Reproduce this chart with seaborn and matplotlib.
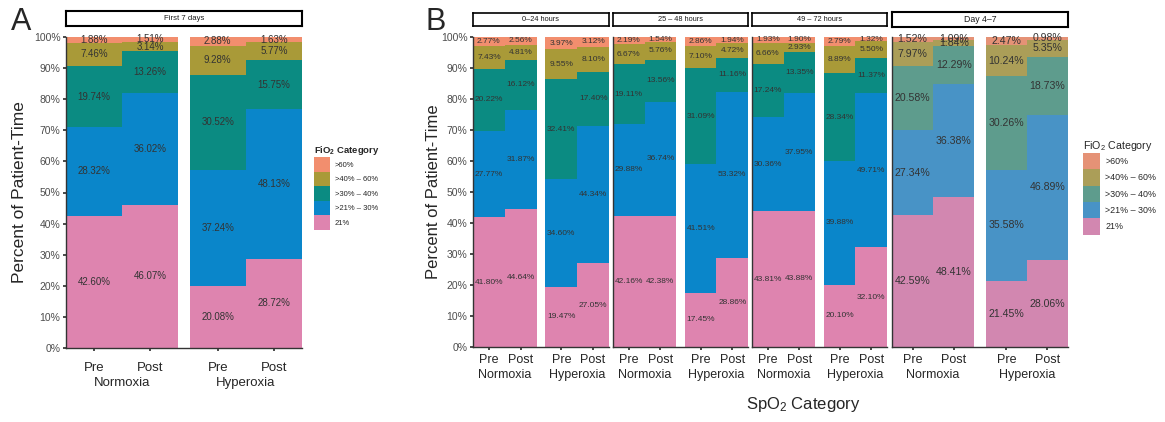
import matplotlib

matplotlib.use("Agg")

import matplotlib.pyplot as plt
import matplotlib.transforms as mtransforms
import numpy as np
import pandas as pd
import seaborn as sns
from matplotlib.patches import Patch

# ============================================================
# 数据（从图中读取，单位：%）
# ============================================================
fio2_categories = ["21%", ">21% – 30%", ">30% – 40%", ">40% – 60%", ">60%"]  # 自下而上
bar_labels = ["Pre", "Post", "Pre", "Post"]
spo2_groups = ["Normoxia", "Hyperoxia"]

# 图 A：First 7 days，顺序 Normoxia-Pre, Normoxia-Post, Hyperoxia-Pre, Hyperoxia-Post
a_21 = [42.60, 46.07, 20.08, 28.72]
a_21_30 = [28.32, 36.02, 37.24, 48.13]
a_30_40 = [19.74, 13.26, 30.52, 15.75]
a_40_60 = [7.46, 3.14, 9.28, 5.77]
a_60 = [1.88, 1.51, 2.88, 1.63]
a_strip = "First 7 days"

# 图 B：按时间段分面，每个分面 4 根柱子
b_strips = ["0–24 hours", "25 – 48 hours", "49 – 72 hours", "Day 4–7"]
b_21 = [41.80, 44.64, 19.47, 27.05, 42.16, 42.38, 17.45, 28.86,
        43.81, 43.88, 20.10, 32.10, 42.59, 48.41, 21.45, 28.06]
b_21_30 = [27.77, 31.87, 34.60, 44.34, 29.88, 36.74, 41.51, 53.32,
           30.36, 37.95, 39.88, 49.71, 27.34, 36.38, 35.58, 46.89]
b_30_40 = [20.22, 16.12, 32.41, 17.40, 19.11, 13.56, 31.09, 11.16,
           17.24, 13.35, 28.34, 11.37, 20.58, 12.29, 30.26, 18.73]
b_40_60 = [7.43, 4.81, 9.55, 8.10, 6.67, 5.76, 7.10, 4.72,
           6.66, 2.93, 8.89, 5.50, 7.97, 1.84, 10.24, 5.35]
b_60 = [2.77, 2.56, 3.97, 3.12, 2.19, 1.54, 2.86, 1.94,
        1.93, 1.90, 2.79, 1.32, 1.52, 1.09, 2.47, 0.98]

# 颜色（自下而上）
COLORS = ["#DE84AF", "#0A86CA", "#0B8B82", "#A99A38", "#F28E6E"]
COLORS_MUTED = ["#D287B0", "#4893C6", "#5E9C8D", "#AB9E58", "#E59276"]

# ============================================================
# 全局设置
# ============================================================
sns.set_theme(style="ticks")
plt.rcParams["font.family"] = ["Liberation Sans", "DejaVu Sans"]
plt.rcParams["mathtext.default"] = "regular"

W, H = 1165, 422
fig = plt.figure(figsize=(W / 100, H / 100), dpi=100)


def box(x0, x1, ytop, ybot):
    """像素坐标 -> figure 坐标。"""
    return [x0 / W, 1 - ybot / H, (x1 - x0) / W, (ybot - ytop) / H]


def draw_stack(ax, positions, layers, colors, label_fs):
    """用 seaborn barplot 叠加累积柱形，模拟堆叠柱状图。"""
    layers = np.array(layers)
    cum = np.cumsum(layers, axis=0)
    for i in reversed(range(len(layers))):
        d = pd.DataFrame({"pos": positions, "top": cum[i]})
        sns.barplot(data=d, x="pos", y="top", native_scale=True, width=1,
                    color=colors[i], saturation=1, linewidth=0,
                    errorbar=None, ax=ax)
    for i in range(len(layers)):
        for j, p in enumerate(positions):
            ax.text(p, cum[i][j] - layers[i][j] / 2, f"{layers[i][j]:.2f}%",
                    ha="center", va="center", fontsize=label_fs, color="#333333")


def style_axes(ax, positions, xlim, show_y, tick_fs, group_fs, pad, group_y):
    ax.set_ylim(0, 100)
    ax.set_xlim(*xlim)
    ax.set_xticks(positions, bar_labels, fontsize=tick_fs)
    ax.tick_params(axis="x", length=2, pad=pad, color="#333333")
    ax.set_xlabel("")
    ax.set_ylabel("")
    ax.set_yticks(np.arange(0, 101, 10))
    if show_y:
        ax.set_yticklabels([f"{v}%" for v in range(0, 101, 10)], fontsize=7.5,
                           color="#4D4D4D")
        ax.tick_params(axis="y", length=2.5, pad=1.5, color="#333333")
    else:
        ax.set_yticklabels([])
        ax.tick_params(axis="y", length=0)
    sns.despine(ax=ax)
    for s in ["left", "bottom"]:
        ax.spines[s].set_color("#333333")
        ax.spines[s].set_linewidth(1)
    trans = mtransforms.blended_transform_factory(ax.transData, ax.transAxes)
    for k, g in enumerate(spo2_groups):
        xc = (positions[2 * k] + positions[2 * k + 1]) / 2
        ax.text(xc, group_y, g, ha="center", va="center", fontsize=group_fs,
                transform=trans)


def add_strip(rect, text, fs, lw=1.2):
    sax = fig.add_axes(rect)
    sax.set_xticks([])
    sax.set_yticks([])
    for s in sax.spines.values():
        s.set_color("black")
        s.set_linewidth(lw)
    sax.text(0.5, 0.5, text, ha="center", va="center", fontsize=fs,
             transform=sax.transAxes, color="#1a1a1a")


def add_legend(x, y, title_fs, label_fs, handle_len, handle_h, colors, bold):
    handles = [Patch(facecolor=colors[i], edgecolor="none")
               for i in reversed(range(len(fio2_categories)))]
    labels = list(reversed(fio2_categories))
    leg = fig.legend(handles, labels, loc="upper left", bbox_to_anchor=(x / W, 1 - y / H),
                     frameon=False, fontsize=label_fs, handlelength=handle_len,
                     handleheight=handle_h, labelspacing=0, handletextpad=0.6,
                     borderaxespad=0, borderpad=0,
                     title="FiO$_2$ Category",
                     title_fontproperties={"size": title_fs,
                                           "weight": "bold" if bold else "normal"})
    leg._legend_box.align = "left"


# ============================================================
# 图 A
# ============================================================
pos_a = [0, 1, 2.2, 3.2]
ax_a = fig.add_axes(box(66, 302, 37, 348))
draw_stack(ax_a, pos_a, [a_21, a_21_30, a_30_40, a_40_60, a_60], COLORS, 7)
style_axes(ax_a, pos_a, (-0.5, 3.7), True, 9.5, 9.5, 8, -0.114)
add_strip(box(66, 302, 11, 26), a_strip, 5.6, lw=1.5)
add_legend(314, 144, 6.8, 5.5, 2.1, 2.55, COLORS, True)

fig.text(20 / W, 1 - 192 / H, "Percent of Patient-Time", rotation=90,
         ha="center", va="center", fontsize=12.5)
fig.text(21 / W, 1 - 22 / H, "A", ha="center", va="center", fontsize=22)

# ============================================================
# 图 B
# ============================================================
pos_b = [0, 1, 2.28, 3.28]
facet_px = [(473, 609), (613, 748), (752, 887), (892, 1068)]
b_layers = [b_21, b_21_30, b_30_40, b_40_60, b_60]
for f, (x0, x1) in enumerate(facet_px):
    ax = fig.add_axes(box(x0, x1, 37, 347))
    sl = slice(4 * f, 4 * f + 4)
    layers = [layer[sl] for layer in b_layers]
    last = f == len(facet_px) - 1
    draw_stack(ax, pos_b, layers, COLORS_MUTED if last else COLORS,
               7.6 if last else 6)
    style_axes(ax, pos_b, (-0.5, 3.78), f == 0, 9, 9, 3, -0.09)
    if last:
        add_strip(box(x0, x1, 12, 27), b_strips[f], 6.3, lw=1.5)
    else:
        add_strip(box(x0, x1, 13, 26), b_strips[f], 5.3, lw=1.2)

add_legend(1083, 139, 7.7, 6.4, 1.9, 2.45, COLORS_MUTED, False)

fig.text(433 / W, 1 - 192 / H, "Percent of Patient-Time", rotation=90,
         ha="center", va="center", fontsize=12)
fig.text(803 / W, 1 - 405 / H, "SpO$_2$ Category", ha="center", va="center",
         fontsize=12)
fig.text(436 / W, 1 - 22 / H, "B", ha="center", va="center", fontsize=22)

fig.savefig("out.png", dpi=100, facecolor="white")
